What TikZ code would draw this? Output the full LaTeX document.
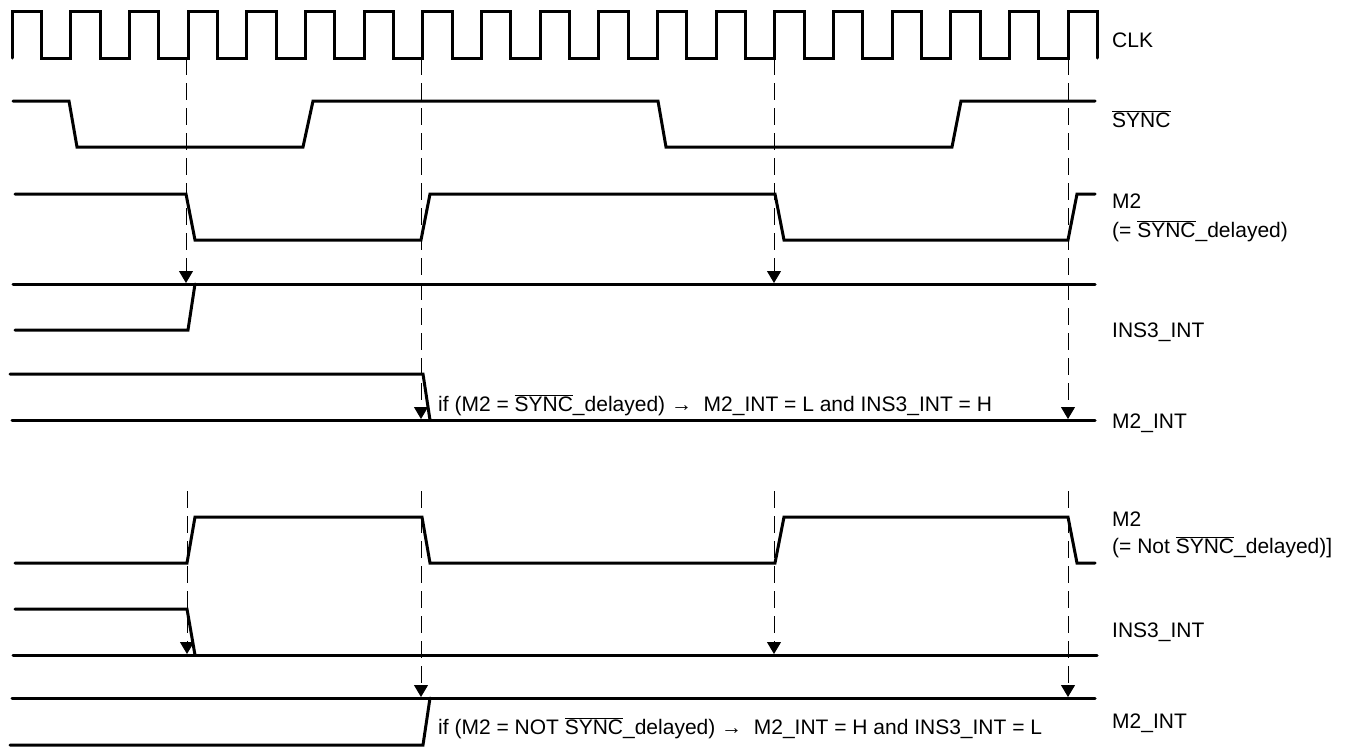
\documentclass[tikz,border=0pt]{standalone}
\usepackage{fontspec}
\setmainfont{Liberation Sans}
\usetikzlibrary{arrows.meta}
\tikzset{
  sig/.style={line width=3pt, line cap=round},
  edge/.style={dash pattern=on 17pt off 8pt, line width=1pt, -{Triangle[width=14pt,length=12pt]}},
  lbl/.style={anchor=base west, inner sep=0pt, font=\fontsize{21}{25}\selectfont},
}
\newcommand{\nsync}{$\overline{\mbox{SYNC}}$}
\begin{document}
\begin{tikzpicture}[x=1pt,y=-1pt]
  \useasboundingbox (0,0) rectangle (1350,748);
  \draw[sig] (12,58) \foreach \k in {0,...,18} { -- ({12+58.67*\k},58) -- ({12+58.67*\k},11) -- ({41.33+58.67*\k},11) -- ({41.33+58.67*\k},58) };
  \draw[sig] (13,101) -- (69,101) -- (77,147) -- (303,147) -- (313,101) -- (658,101) -- (666,147) -- (952,147) -- (961,101) -- (1095,101);
  \draw[sig] (15,194) -- (186,194) -- (195,240) -- (421,240) -- (430,194) -- (775,194) -- (784,240) -- (1068,240) -- (1077,194) -- (1095,194);
  \draw[sig] (13,284) -- (1095,284);
  \draw[sig] (15,330) -- (188,330) -- (195,284);
  \draw[sig] (10,374) -- (423,374) -- (430,420);
  \draw[sig] (12,420) -- (1095,420);
  \draw[sig] (15,563) -- (187,563) -- (195,517) -- (422,517) -- (430,563) -- (775,563) -- (784,517) -- (1068,517) -- (1077,563) -- (1095,563);
  \draw[sig] (15,609) -- (187,609) -- (195,655);
  \draw[sig] (13,655) -- (1097,655);
  \draw[sig] (12,698) -- (1095,698);
  \draw[sig] (10,745) -- (423,745) -- (430,698);
  \foreach \x/\y [count=\i] in {186/283, 421/419, 774/283, 1068/419} {
    \coordinate (top\i) at (\x,58);
    \coordinate (hit\i) at (\x,\y);
    \draw[edge] (top\i) -- (hit\i);
  }
  \foreach \x/\y [count=\i] in {187/654, 421/697, 774/654, 1068/697} {
    \coordinate (low\i) at (\x,491);
    \coordinate (end\i) at (\x,\y);
    \draw[edge] (low\i) -- (end\i);
  }
  \node[lbl] (clk) at (1112,47) {CLK};
  \node[lbl] (sync) at (1112,127) {\nsync};
  \node[lbl] (m2a) at (1112,208) {M2};
  \node[lbl] (m2anote) at (1112,237) {(= \nsync\_delayed)};
  \node[lbl] (ins3a) at (1112,337) {INS3\_INT};
  \node[lbl] (m2inta) at (1112,428) {M2\_INT};
  \node[lbl] (m2b) at (1112,526) {M2};
  \node[lbl] (m2bnote) at (1112,553) {(= Not \nsync\_delayed)]};
  \node[lbl] (ins3b) at (1112,637) {INS3\_INT};
  \node[lbl] (m2intb) at (1112,728) {M2\_INT};
  \node[lbl] (conda) at (438,411) {if (M2 = \nsync\_delayed) →~ M2\_INT = L and INS3\_INT = H};
  \node[lbl] (condb) at (438,734) {if (M2 = NOT \nsync\_delayed) →~ M2\_INT = H and INS3\_INT = L};
\end{tikzpicture}
\end{document}
